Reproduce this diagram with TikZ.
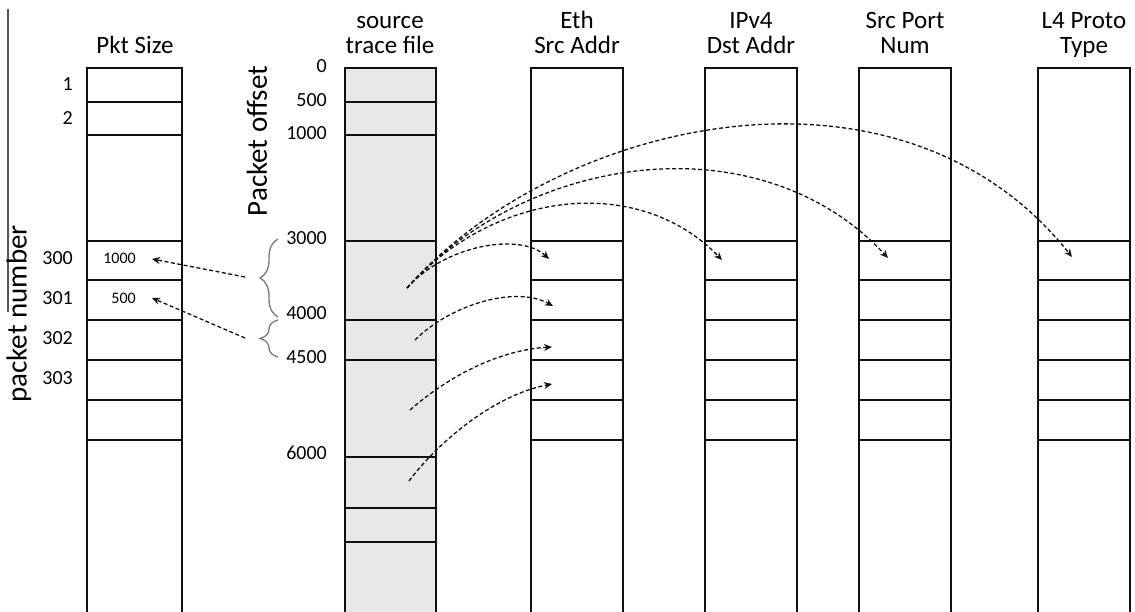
\documentclass[tikz,border=0pt]{standalone}
\usepackage{fontspec}
\setmainfont{Carlito}
\usetikzlibrary{arrows.meta,decorations.pathreplacing}
\newcommand{\Unit}{1pt}
\newcommand{\Edge}{2.6pt}
\newcommand{\Top}{68}
\newcommand{\Bottom}{620}
\definecolor{trace}{HTML}{E8E8E8}
\definecolor{ink}{HTML}{101010}
\definecolor{rule}{HTML}{555555}
\definecolor{bracegrey}{HTML}{7A7A7A}

\begin{document}
\begin{tikzpicture}[x=\Unit,y=-\Unit, line join=miter,
  colline/.style={ink,line width=\Edge},
  thinline/.style={ink,line width=1.4pt},
  title/.style={font=\fontsize{25}{25}\selectfont,align=center,anchor=base},
  numlab/.style={font=\fontsize{20}{20}\selectfont,anchor=east,inner sep=0pt},
  cellval/.style={font=\fontsize{16}{16}\selectfont,anchor=east,inner sep=0pt},
  axislab/.style={font=\fontsize{29}{29}\selectfont,rotate=90,inner sep=0pt},
  link/.style={ink,line width=1.3pt,dash pattern=on 4pt off 2.5pt,
    -{Stealth[length=8pt,width=7pt]}},
  curly/.style={bracegrey,line width=1.3pt,decorate,
    decoration={brace,amplitude=18pt}}]

  \useasboundingbox (0,0) rectangle (1135,612);

  % ---- packet number axis ---------------------------------------------------
  \draw[rule,line width=1.5pt] (8,9) -- (8,312);
  \node[axislab] (pnaxis) at (19,314) {packet number};

  % ---- packet sizes ---------------------------------------------------------
  \draw[colline] (87,\Bottom) -- (87,\Top) -- (182,\Top) -- (182,\Bottom);
  \foreach \y in {102,135,280,320,360,400,440}
    \draw[colline] (87,\y) -- (182,\y);
  \draw[thinline] (87,241) -- (182,241);
  \node[title] (sizeT) at (135,54) {Pkt Size};
  \foreach \n/\y in {1/84, 2/118, 300/258, 301/298, 302/338, 303/378}
    \node[numlab] (row\n) at (73,\y) {\n};
  \node[cellval] (val300) at (136,258) {1000};
  \node[cellval] (val301) at (136,298) {500};

  % ---- the trace file, by byte offset ---------------------------------------
  \fill[trace] (345,\Top) rectangle (436,\Bottom);
  \foreach \y in {102,135,320,360,457,508,542}
    \draw[colline] (345,\y) -- (436,\y);
  \draw[thinline] (345,241) -- (436,241);
  \draw[colline] (345,\Bottom) -- (345,\Top) -- (436,\Top) -- (436,\Bottom);
  \node[title] (traceT) at (390,54) {source\\trace file};
  \foreach \o/\y in {0/66, 500/100, 1000/133, 3000/238, 4000/313, 4500/357, 6000/453}
    \node[numlab] (off\o) at (327,\y) {\o};
  \node[axislab] (offaxis) at (257,141) {Packet offset};

  % ---- header field columns -------------------------------------------------
  \foreach \l/\r/\c/\n/\t in {531/623/577/eth/{Eth\\Src Addr},
                             705/797/751/ipv/{IPv4\\Dst Addr},
                             859/951/905/port/{Src Port\\Num},
                             1038/1130/1084/proto/{L4 Proto\\Type}} {
    \draw[colline] (\l,\Bottom) -- (\l,\Top) -- (\r,\Top) -- (\r,\Bottom);
    \foreach \y in {280,320,360,400,440}
      \draw[colline] (\l,\y) -- (\r,\y);
    \draw[thinline] (\l,241) -- (\r,241);
    \node[title] (\n T) at (\c,54) {\t};
  }

  % ---- offsets back to sizes ------------------------------------------------
  \draw[curly] (278,317) -- (278,239);
  \draw[curly] (278,357) -- (278,320);
  \coordinate (br3000) at (245,277);
  \coordinate (br4000) at (245,338);
  \coordinate (to300) at (152,259);
  \coordinate (to301) at (152,298);
  \draw[link] (br3000) -- (to300);
  \draw[link] (br4000) -- (to301);

  % ---- packets out to the field columns -------------------------------------
  \coordinate (pkt300) at (407,288);
  \coordinate (pkt301) at (415,340);
  \coordinate (pkt302) at (410,410);
  \coordinate (pkt303) at (409,481);
  \coordinate (eth300) at (549,259);
  \coordinate (eth301) at (553,306);
  \coordinate (eth302) at (552,347);
  \coordinate (eth303) at (552,384);
  \coordinate (ipv300) at (722,260);
  \coordinate (port300) at (888,258);
  \coordinate (proto300) at (1072,257);
  \draw[link] (pkt300) .. controls +(38,-43) and +(-29,-27) .. (eth300);
  \draw[link] (pkt300) .. controls +(90,-100) and +(-82,-85) .. (ipv300);
  \draw[link] (pkt300) .. controls +(120,-135) and +(-128,-138) .. (port300);
  \draw[link] (pkt300) .. controls +(150,-170) and +(-172,-217) .. (proto300);
  \draw[link] (pkt301) .. controls +(35,-35) and +(-38,-21) .. (eth301);
  \draw[link] (pkt302) .. controls +(40,-35) and +(-52,3) .. (eth302);
  \draw[link] (pkt303) .. controls +(31,-41) and +(-57,11) .. (eth303);

\end{tikzpicture}
\end{document}
